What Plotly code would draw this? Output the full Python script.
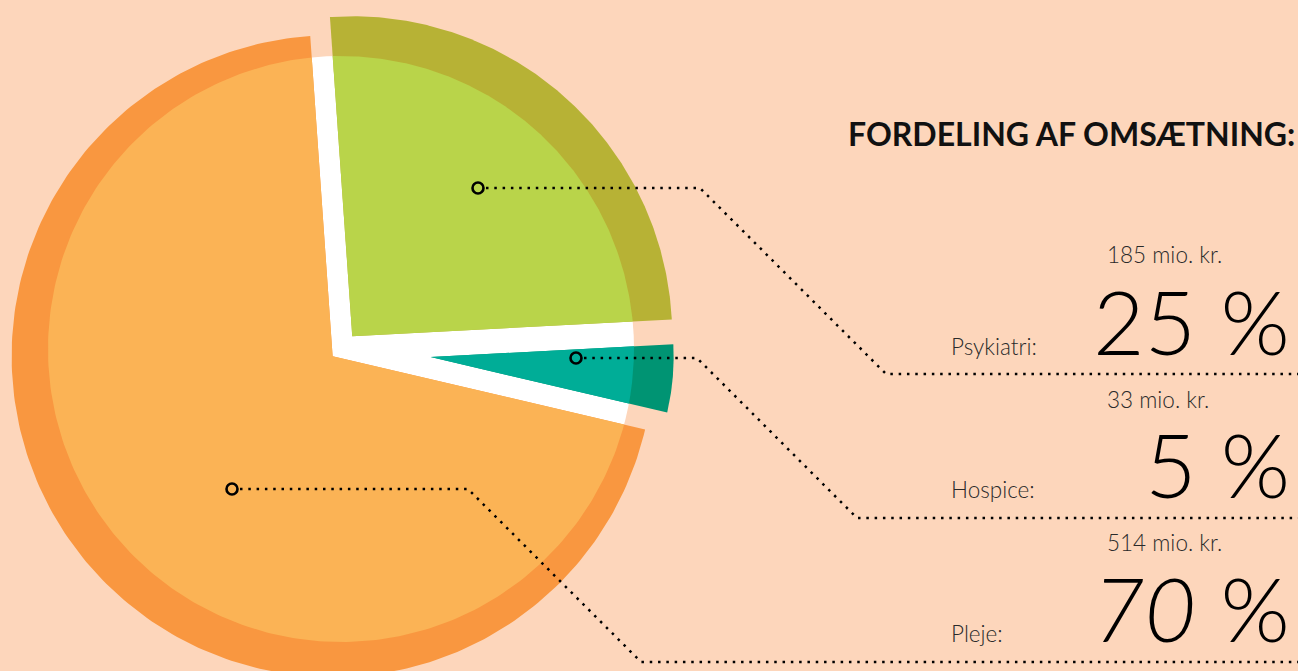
import numpy as np
import plotly.graph_objects as go

# ---------------- data ----------------
categories = ["Psykiatri", "Hospice", "Pleje"]
revenue_mio = [185, 33, 514]
revenue_labels = ["185 mio. kr.", "33 mio. kr.", "514 mio. kr."]
percent_labels = ["25 %", "5 %", "70 %"]
title_text = "FORDELING AF OMSÆTNING:"

# ---------------- style / layout ----------------
W, H = 1298, 671
BG = "#FDD6BB"
CX, CY = 341, 349          # pie centre (px)
R_IN = 293                 # radius of inner (lighter) disc
START = -4.0               # start angle, degrees clockwise from 12 o'clock
PULL = [17, 90, 11]        # explode distance per slice
RADIUS = [320, 243, 321]   # outer radius per slice
DARK = ["#B7B235", "#009473", "#F99740"]
LIGHT = ["#B9D44A", "#00AD97", "#FBB355"]
ITALIC = [False, False, True]
FONT = "Lato"
BIG = 89
SMALL = 22.5

# leader lines (layout anchors in px)
LEADERS = [
    [(478, 188), (700, 188), (886, 374), (1298, 374)],
    [(576, 358), (697, 358), (857, 518), (1298, 518)],
    [(232, 489), (468, 489), (641, 662), (1298, 662)],
]
ROW_BASE = [355, 498, 642]      # baseline of big number row
SMALL_BASE = [263, 408, 551]    # baseline of "mio. kr." labels


def pt(x0, y0, r, theta_deg):
    t = np.radians(theta_deg)
    return x0 + r * np.sin(t), y0 - r * np.cos(t)


fig = go.Figure()

total = float(sum(revenue_mio))
spans = [v / total * 360.0 for v in revenue_mio]
starts = START + np.concatenate([[0.0], np.cumsum(spans)[:-1]])

for i, cat in enumerate(categories):
    a0 = starts[i]
    a1 = a0 + spans[i]
    mid = (a0 + a1) / 2
    ax, ay = pt(CX, CY, PULL[i], mid)
    th = np.linspace(a0, a1, 240)
    ox, oy = pt(ax, ay, RADIUS[i], th)
    fig.add_trace(go.Scatter(
        x=np.concatenate([[ax], ox, [ax]]), y=np.concatenate([[ay], oy, [ay]]),
        mode="lines", fill="toself", fillcolor=DARK[i], line=dict(width=0),
        hoverinfo="skip", name=cat))

    d = np.array([ax - CX, ay - CY])

    def hit(a):
        u = np.array([np.sin(np.radians(a)), -np.cos(np.radians(a))])
        du = d @ u
        t = -du + np.sqrt(du ** 2 - d @ d + R_IN ** 2)
        return ax + t * u[0], ay + t * u[1]

    p0 = hit(a0)
    p1 = hit(a1)
    f0 = np.degrees(np.arctan2(p0[0] - CX, -(p0[1] - CY)))
    f1 = np.degrees(np.arctan2(p1[0] - CX, -(p1[1] - CY)))
    while f0 > a0 + 90:
        f0 -= 360
    while f1 <= f0:
        f1 += 360
    ph = np.linspace(f0, f1, 240)
    ix, iy = pt(CX, CY, R_IN, ph)
    fig.add_trace(go.Scatter(
        x=np.concatenate([[ax], ix, [ax]]), y=np.concatenate([[ay], iy, [ay]]),
        mode="lines", fill="toself", fillcolor=LIGHT[i], line=dict(width=0),
        hoverinfo="skip", name=cat))

# leader lines + markers
for pts in LEADERS:
    xs = [p[0] for p in pts]
    ys = [p[1] for p in pts]
    xs[0] += 8
    fig.add_trace(go.Scatter(x=xs, y=ys, mode="lines",
                             line=dict(color="black", width=2.5, dash="2.5px,5.8px"),
                             hoverinfo="skip"))
fig.add_trace(go.Scatter(
    x=[p[0][0] for p in LEADERS], y=[p[0][1] for p in LEADERS], mode="markers",
    marker=dict(symbol="circle-open", size=11, color="black", line=dict(width=2.6)),
    hoverinfo="skip"))

ann = []
# title
ann.append(dict(x=1297, y=146 - 0.387 * 32, text="<b>" + title_text + "</b>",
                xanchor="right", yanchor="middle", showarrow=False,
                font=dict(family=FONT, size=32, color="#111111", weight=900)))
for i, cat in enumerate(categories):
    ann.append(dict(x=1105, y=SMALL_BASE[i] - 0.387 * SMALL, text=revenue_labels[i],
                    xanchor="left", yanchor="middle", showarrow=False,
                    font=dict(family=FONT, size=SMALL, color="#2a2a2a", weight=300)))
    txt = percent_labels[i]
    if ITALIC[i]:
        num, pc = txt.split(" ")
        txt = "<i>" + num + "</i> " + pc
    ann.append(dict(x=1292, y=ROW_BASE[i] - 0.387 * BIG, text=txt,
                    xanchor="right", yanchor="middle", showarrow=False,
                    font=dict(family=FONT, size=BIG, color="#000000", weight=300)))
    ann.append(dict(x=949, y=ROW_BASE[i] - 0.387 * SMALL, text=cat + ":",
                    xanchor="left", yanchor="middle", showarrow=False,
                    font=dict(family=FONT, size=SMALL, color="#2a2a2a", weight=300)))

fig.update_layout(
    width=W, height=H,
    margin=dict(l=0, r=0, t=0, b=0, pad=0),
    paper_bgcolor=BG, plot_bgcolor=BG,
    showlegend=False, hovermode=False,
    xaxis=dict(range=[0, W], visible=False, fixedrange=True),
    yaxis=dict(range=[H, 0], visible=False, fixedrange=True),
    shapes=[dict(type="circle", xref="x", yref="y", layer="below",
                 x0=CX - R_IN, x1=CX + R_IN, y0=CY - R_IN, y1=CY + R_IN,
                 fillcolor="white", line=dict(width=0))],
    annotations=ann,
)

fig.write_html("out.html", config={"displayModeBar": False},
               post_script="document.body.style.margin='0';document.body.style.overflow='hidden';")
